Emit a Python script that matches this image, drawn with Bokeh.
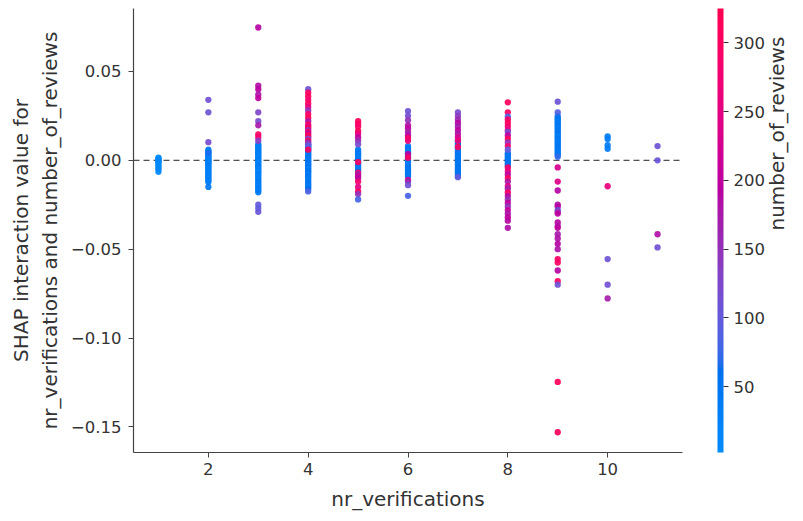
import numpy as np
from bokeh.plotting import figure
from bokeh.models import (ColumnDataSource, LinearColorMapper, ColorBar, FixedTicker,
                          Span, Range1d, CustomJSTickFormatter, LinearAxis)
from bokeh.embed import file_html
from bokeh.resources import INLINE

# ---------------- data ----------------
x_ticks = [2, 4, 6, 8, 10]
y_ticks = [-0.15, -0.10, -0.05, 0.0, 0.05]
cbar_ticks = [50, 100, 150, 200, 250, 300]
reviews_low, reviews_high = 2, 325

v1_shap = [0.0015, 0.001, 0.0005, 0.0, -0.0005, -0.001, -0.002, -0.003, -0.004, -0.005, -0.0065]
v1_reviews = [5, 8, 4, 10, 6, 12, 7, 9, 5, 11, 8]

v2_shap = [0.006, 0.0052, 0.0045, 0.0038, 0.003, 0.0024, 0.0018, 0.0012, 0.0006, 0.0, -0.0006,
           -0.0012, -0.0018, -0.0025, -0.0032, -0.004, -0.0048, -0.0056, -0.0064, -0.0072, -0.008,
           -0.0088, -0.0096, -0.0105, -0.0114, -0.0122, -0.015, 0.034, 0.027, 0.0102, 0.0042]
v2_reviews = [30, 25, 40, 20, 35, 15, 45, 22, 30, 18, 38, 26, 33, 20, 42, 28, 16, 36, 24, 31, 19,
              40, 27, 22, 35, 29, 45, 115, 110, 120, 65]

v3_shap = [0.009, 0.0082, 0.0074, 0.0066, 0.0058, 0.005, 0.0042, 0.0034, 0.0026, 0.0018, 0.001,
           0.0002, -0.0006, -0.0014, -0.0022, -0.003, -0.0038, -0.0046, -0.0054, -0.0062, -0.007,
           -0.008, -0.009, -0.010, -0.011, -0.012, -0.013, -0.014, -0.015, -0.016, -0.017, -0.018,
           0.0747, 0.042, 0.040, 0.037, 0.035, 0.027, 0.022, 0.0197, 0.0146, 0.013, 0.011,
           -0.025, -0.027, -0.029]
v3_reviews = [45, 35, 28, 50, 22, 38, 30, 42, 25, 33, 20, 40, 27, 35, 18, 44, 29, 37, 24, 32, 21,
              39, 26, 34, 23, 41, 30, 36, 25, 43, 31, 38,
              190, 185, 195, 180, 200, 125, 120, 175, 300, 285, 140,
              100, 95, 105]

v4_shap = [0.009, 0.0082, 0.0074, 0.0066, 0.0058, 0.005, 0.0042, 0.0034, 0.0026, 0.0018, 0.001,
           0.0002, -0.0006, -0.0014, -0.0022, -0.003, -0.0038, -0.0046, -0.0054, -0.0062, -0.007,
           -0.008, -0.009, -0.010, -0.011, -0.012, -0.013, -0.014, -0.015, -0.016, -0.0175,
           0.040, 0.038, 0.036, 0.034, 0.032, 0.030, 0.028, 0.026, 0.024, 0.022, 0.020, 0.019,
           0.018, 0.017, 0.016, 0.015, 0.014, 0.013, 0.012, 0.011, 0.010, 0.009, 0.008, 0.006]
v4_reviews = [60, 45, 70, 35, 55, 40, 65, 30, 50, 38, 58, 42, 33, 62, 47, 36, 53, 41, 29, 57, 44,
              34, 52, 39, 48, 31, 55, 43, 37, 60, 85,
              110, 300, 310, 280, 300, 260, 150, 290, 320, 180, 300, 250,
              310, 150, 290, 200, 320, 280, 120, 300, 160, 130, 90, 300]

v5_shap = [0.006, 0.005, 0.004, 0.003, 0.002, 0.001, 0.0, -0.001, -0.002, -0.003, -0.004, -0.005,
           -0.006, 0.022, 0.0205, 0.019, 0.0165, 0.015, 0.013, 0.011, 0.009, -0.001, -0.007,
           -0.008, -0.009, -0.010, -0.012, -0.015, -0.0175, -0.019, -0.022]
v5_reviews = [40, 30, 55, 35, 45, 28, 50, 38, 33, 58, 42, 36, 48, 310, 300, 290, 320, 260, 200,
              160, 120, 300, 280, 170, 220, 190, 280, 250, 300, 150, 80]

v6_shap = [0.008, 0.007, 0.006, 0.005, 0.004, 0.003, 0.002, 0.001, 0.0, -0.001, -0.002, -0.003,
           -0.004, -0.005, -0.006, -0.007, -0.008, -0.009,
           0.0277, 0.025, 0.0225, 0.0197, 0.018, 0.016, 0.014, 0.0125, 0.011, 0.0035, 0.0015,
           -0.011, -0.012, -0.014, -0.020]
v6_reviews = [45, 35, 55, 30, 50, 40, 38, 60, 33, 48, 42, 36, 52, 44, 39, 57, 41, 47,
              110, 120, 150, 180, 200, 170, 190, 300, 270, 200, 300,
              220, 160, 110, 80]

v7_shap = [0.011, 0.01, 0.009, 0.008, 0.007, 0.006, 0.005, 0.004, 0.003, 0.002, 0.001, 0.0,
           -0.001, -0.002, -0.003, -0.004, -0.005, -0.006, -0.007, -0.008, -0.009,
           0.027, 0.025, 0.023, 0.021, 0.019, 0.017, 0.015, 0.013, 0.011, 0.0075, -0.0095]
v7_reviews = [50, 40, 60, 35, 55, 45, 38, 65, 42, 52, 36, 58, 44, 48, 39, 62, 41, 53, 46, 57, 43,
              120, 140, 160, 190, 170, 200, 180, 230, 270, 300, 100]

v8_shap = [0.004, 0.003, 0.002, 0.001, 0.0, -0.001, -0.002, -0.003,
           0.0326, 0.027, 0.0245, 0.023, 0.021, 0.019, 0.017, 0.016, 0.014, 0.012, 0.010, 0.008,
           0.006, -0.004, -0.006, -0.008, -0.010, -0.012, -0.0145, -0.016, -0.018, -0.020,
           -0.022, -0.024, -0.026, -0.028, -0.030, -0.032, -0.034, -0.038]
v8_reviews = [60, 45, 55, 40, 50, 48, 58, 42,
              310, 300, 80, 290, 310, 280, 250, 120, 200, 310, 150, 280,
              100, 290, 260, 200, 310, 180, 240, 170, 300, 190,
              160, 200, 150, 210, 180, 200, 190, 185]

v9_shap = [0.027, 0.025, 0.024, 0.023, 0.022, 0.021, 0.020, 0.019, 0.018, 0.017, 0.016, 0.015,
           0.014, 0.013, 0.012, 0.011, 0.010, 0.009, 0.008, 0.007, 0.006, 0.005, 0.004, 0.003,
           0.002, 0.033, -0.004, -0.012, -0.017, -0.025, -0.026, -0.028, -0.029, -0.030, -0.035,
           -0.037, -0.038, -0.0416, -0.044, -0.047, -0.050, -0.0556, -0.0575, -0.062, -0.068,
           -0.070, -0.1247, -0.153]
v9_reviews = [90, 80, 45, 60, 35, 50, 40, 55, 30, 48, 38, 58, 42, 33, 52, 44, 36, 47, 41, 53, 39,
              46, 35, 50, 70, 110, 230, 240, 190, 180, 190, 110, 150, 200, 190,
              180, 200, 175, 180, 190, 180, 290, 300, 190, 300,
              110, 310, 310]

v10_shap = [0.0135, 0.012, 0.0085, 0.0065, -0.0146, -0.0556, -0.070, -0.0777]
v10_reviews = [30, 35, 40, 35, 260, 110, 115, 170]

v11_shap = [0.008, 0.0, -0.0416, -0.049]
v11_reviews = [110, 105, 185, 115]

columns = [(1, v1_shap, v1_reviews), (2, v2_shap, v2_reviews), (3, v3_shap, v3_reviews),
           (4, v4_shap, v4_reviews), (5, v5_shap, v5_reviews), (6, v6_shap, v6_reviews),
           (7, v7_shap, v7_reviews), (8, v8_shap, v8_reviews), (9, v9_shap, v9_reviews),
           (10, v10_shap, v10_reviews), (11, v11_shap, v11_reviews)]

xs, ys, cs = [], [], []
for xv, sv, rv in columns:
    xs += [xv] * len(sv)
    ys += list(sv)
    cs += list(rv)

# ---------------- shap red_blue colormap (LCH interpolation) ----------------
def lch_to_hex(l, c, h):
    a = c * np.cos(h)
    b = c * np.sin(h)
    fy = (l + 16) / 116
    fx = fy + a / 500
    fz = fy - b / 200

    def finv(t):
        return t ** 3 if t ** 3 > 0.008856 else (t - 16 / 116) / 7.787

    X = 0.95047 * finv(fx)
    Y = 1.0 * finv(fy)
    Z = 1.08883 * finv(fz)
    r = 3.2404542 * X - 1.5371385 * Y - 0.4985314 * Z
    g = -0.9692660 * X + 1.8760108 * Y + 0.0415560 * Z
    bb = 0.0556434 * X - 0.2040259 * Y + 1.0572252 * Z
    out = []
    for v in (r, g, bb):
        v = 1.055 * v ** (1 / 2.4) - 0.055 if v > 0.0031308 else 12.92 * v
        out.append(int(round(min(max(v, 0.0), 1.0) * 255)))
    return "#%02x%02x%02x" % tuple(out)

nsteps = 100
l_vals = list(np.linspace(54., 40., nsteps // 2)) + list(np.linspace(40., 54., nsteps // 2))
c_vals = np.linspace(70., 90., nsteps)
h_vals = np.linspace(4.6588, 0.35470565 + 2 * np.pi, nsteps)
palette = [lch_to_hex(l, c, h) for l, c, h in zip(l_vals, c_vals, h_vals)]

mapper = LinearColorMapper(palette=palette, low=reviews_low, high=reviews_high)

# ---------------- figure ----------------
FONT = "DejaVu Sans"
TXT = "#333333"

p = figure(width=803, height=513, x_range=Range1d(0.5, 11.5), y_range=Range1d(-0.1644, 0.0854),
           output_backend="svg", toolbar_location=None,
           min_border_left=133, min_border_right=120, min_border_top=8, min_border_bottom=59)
p.outline_line_color = None
p.xgrid.visible = False
p.ygrid.visible = False
p.background_fill_color = "white"

zero = Span(location=0, dimension="width", line_color="#222222", line_width=1,
            line_dash="6 4", level="underlay")
p.add_layout(zero)

src = ColumnDataSource(dict(x=xs, y=ys, c=cs))
p.scatter("x", "y", source=src, size=6.3, line_color=None, fill_alpha=0.92,
          fill_color={"field": "c", "transform": mapper})

for ax in (p.xaxis[0], p.yaxis[0]):
    ax.axis_line_color = "#444444"
    ax.axis_line_width = 1.2
    ax.major_tick_line_color = "#444444"
    ax.major_tick_out = 5
    ax.major_tick_in = 0
    ax.minor_tick_line_color = None
    ax.major_label_text_font = FONT
    ax.major_label_text_font_size = "16.5px"
    ax.major_label_text_color = TXT
    ax.axis_label_text_font = FONT
    ax.axis_label_text_font_size = "20px"
    ax.axis_label_text_font_style = "normal"
    ax.axis_label_text_color = TXT

p.xaxis.ticker = FixedTicker(ticks=x_ticks)
p.yaxis.ticker = FixedTicker(ticks=y_ticks)
p.yaxis.formatter = CustomJSTickFormatter(code="""
    if (Math.abs(tick) < 1e-9) { return "0.00"; }
    return (tick < 0 ? "\u2212" : "") + Math.abs(tick).toFixed(2);
""")
p.xaxis.axis_label = "nr_verifications"
p.yaxis.axis_label = "SHAP interaction value for\nnr_verifications and number_of_reviews"
p.xaxis.major_label_standoff = 5
p.yaxis.major_label_standoff = 7
p.xaxis.axis_label_standoff = 9
p.yaxis.axis_label_standoff = 6

cbar = ColorBar(color_mapper=mapper, width=6, location=(35, 0), margin=0, padding=0,
                ticker=FixedTicker(ticks=cbar_ticks),
                major_tick_in=0, major_tick_out=5, major_tick_line_color="#333333",
                minor_tick_line_color=None, bar_line_color=None, border_line_color=None,
                background_fill_color=None, label_standoff=5,
                major_label_text_font=FONT, major_label_text_font_size="16.5px",
                major_label_text_color=TXT)
p.add_layout(cbar, "right")

# rotated colour-bar title as an empty axis label on the right
title_axis = LinearAxis(ticker=FixedTicker(ticks=[]), axis_line_color=None,
                        major_tick_line_color=None, minor_tick_line_color=None,
                        major_tick_out=0, major_tick_in=0, major_label_standoff=0,
                        major_label_text_font_size="0px",
                        axis_label="number_of_reviews", axis_label_text_font=FONT,
                        axis_label_text_font_size="20px", axis_label_text_font_style="normal",
                        axis_label_text_line_height=1.0,
                        axis_label_text_color=TXT, axis_label_standoff=9)
try:
    title_axis.axis_label_orientation = np.pi / 2
except Exception:
    pass
p.add_layout(title_axis, "right")

open("out.html", "w").write(file_html(p, INLINE))
